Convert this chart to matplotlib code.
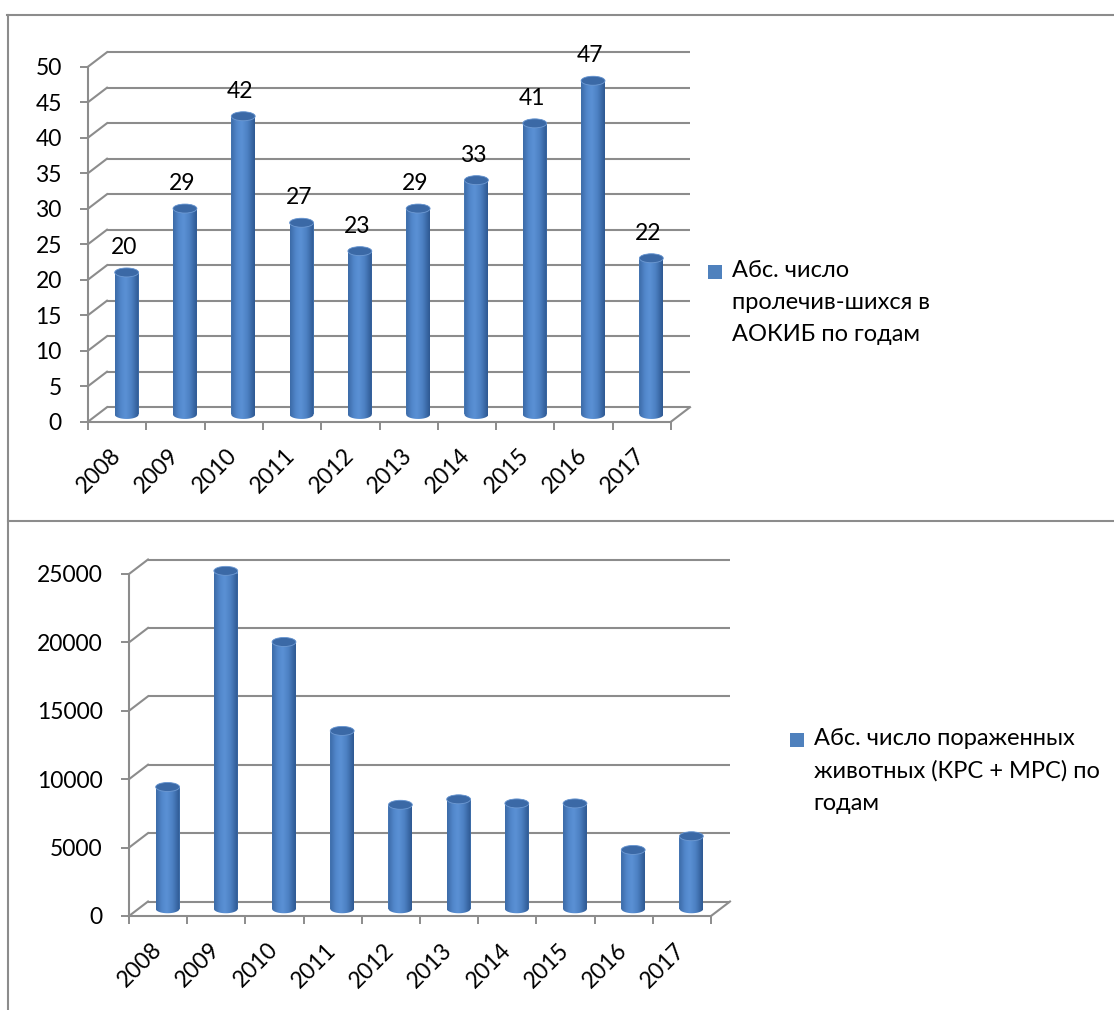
import numpy as np
import matplotlib
matplotlib.use("Agg")
import matplotlib.pyplot as plt
from matplotlib.colors import LinearSegmentedColormap
from matplotlib.patches import Ellipse, Rectangle, Patch
from matplotlib.path import Path
from matplotlib.lines import Line2D
from matplotlib.legend_handler import HandlerPatch

plt.rcParams['font.family'] = ['Lato', 'DejaVu Sans']

years = ['2008', '2009', '2010', '2011', '2012', '2013', '2014', '2015', '2016', '2017']
treated = [20, 29, 42, 27, 23, 29, 33, 41, 47, 22]
affected = [8900, 24700, 19500, 13000, 7600, 8000, 7700, 7700, 4300, 5300]
treated_ticks = np.arange(0, 51, 5)
affected_ticks = np.arange(0, 25001, 5000)
treated_label = 'Абс. число\nпролечив-шихся в\nАОКИБ по годам'
affected_label = 'Абс. число пораженных\nживотных (КРС + МРС) по\nгодам'

W, H = 1114, 1010
GRID = '#8c8c8c'
BLUE = '#4f81bd'
FS = 16.5
LEG_FS = 17
DEPTH_X, DEPTH_Y = 19, 14.5      # pixels the back wall is pushed right / up
LINE_STEP = 32.5 * 0.72          # legend line step, points

cyl = LinearSegmentedColormap.from_list('cyl', [
    (0.0, '#3b6aa6'), (0.25, '#5287cb'), (0.45, '#5b91d5'),
    (0.7, '#4c80c2'), (1.0, '#2d5790')])
grad = np.linspace(0, 1, 256).reshape(1, -1)

fig = plt.figure(figsize=(W / 100, H / 100), dpi=100)


def square(legend, orig_handle, xdescent, ydescent, width, height, fontsize):
    # legend centres the marker on the text block; lift it to the first line
    return Rectangle((-xdescent, -ydescent + LINE_STEP), 10, 10)


def cylinders(box, values, ticks, label, leg_xy, show_values):
    x0, ytop, x1, ybot = box
    ax = fig.add_axes([x0 / W, 1 - ybot / H, (x1 - x0) / W, (ybot - ytop) / H])
    n = len(values)
    ymax = ticks[-1]
    ux = (x1 - x0) / n
    uy = (ybot - ytop) / ymax
    ddx, ddy = DEPTH_X / ux, DEPTH_Y / uy

    # back wall, side wall and floor edge
    for v in ticks:
        ax.plot([ddx, n + ddx], [v + ddy, v + ddy], color=GRID, lw=1.5,
                clip_on=False, zorder=1, solid_capstyle='butt')
        ax.plot([0, ddx], [v, v + ddy], color=GRID, lw=1.5,
                clip_on=False, zorder=1)
    ax.plot([n, n + ddx], [0, ddy], color=GRID, lw=1.5, clip_on=False, zorder=1)

    xc = np.arange(n) + 0.5 + ddx / 2
    bars = ax.bar(xc, values, width=0.41, bottom=ddy / 2, color=BLUE,
                  zorder=3, clip_on=False, label=label)
    eh = 9 / uy
    t1 = np.linspace(np.pi, 2 * np.pi, 40)
    t2 = np.linspace(0, np.pi, 40)
    for b, v in zip(bars, values):
        bx, bw, by, bh = b.get_x(), b.get_width(), b.get_y(), b.get_height()
        cx = bx + bw / 2
        low = np.column_stack([cx + bw / 2 * np.cos(t1), by + eh / 2 * np.sin(t1)])
        high = np.column_stack([cx + bw / 2 * np.cos(t2), by + bh + eh / 2 * np.sin(t2)])
        body = Path(np.vstack([low, high, low[:1]]))
        im = ax.imshow(grad, cmap=cyl, extent=(bx, bx + bw, by - eh, by + bh + eh),
                       aspect='auto', zorder=4, interpolation='bicubic')
        im.set_clip_path(body, ax.transData)
        ax.add_patch(Ellipse((cx, by + bh), bw, eh, fc='#3b69a6', ec='#6e9ad3',
                             lw=0.6, zorder=5, clip_on=False))
        if show_values:
            ax.annotate(str(v), (cx, by + bh), xytext=(-2, 18), textcoords='offset points',
                        ha='center', va='center', fontsize=FS, annotation_clip=False)

    ax.set_xlim(0, n)
    ax.set_ylim(0, ymax)
    ax.patch.set_visible(False)
    for s in ['top', 'right']:
        ax.spines[s].set_visible(False)
    for s in ['left', 'bottom']:
        ax.spines[s].set_color(GRID)
        ax.spines[s].set_linewidth(1.5)

    ax.set_yticks(ticks)
    ax.tick_params(axis='y', length=5.8, width=1.4, color=GRID, pad=13, labelsize=FS)
    ax.set_xticks(np.arange(n + 1))
    ax.set_xticklabels([])
    ax.set_xticks(np.arange(n) + 0.5, minor=True)
    ax.set_xticklabels(years, minor=True, rotation=45, ha='right',
                       rotation_mode='anchor', va='center')
    ax.tick_params(axis='x', which='major', length=6, width=1.4, color=GRID)
    ax.tick_params(axis='x', which='minor', length=0, pad=22, labelsize=FS)

    leg = fig.legend(handles=[Patch(fc=BLUE)], labels=[label], loc='upper left',
                     bbox_to_anchor=(leg_xy[0] / W, 1 - leg_xy[1] / H),
                     frameon=False, fontsize=LEG_FS, handlelength=0.6, handleheight=0.7,
                     handletextpad=0.4, borderpad=0, borderaxespad=0,
                     handler_map={Patch: HandlerPatch(patch_func=square)})
    for t in leg.get_texts():
        t.set_linespacing(1.65)
    return ax


cylinders((88, 66.7, 671, 421.7), treated, treated_ticks, treated_label, (708, 260), True)
cylinders((129, 574, 711, 916), affected, affected_ticks, affected_label, (790, 728), False)

# outer frame of the two panels
for xs, ys in [([7, W], [15, 15]), ([8, 8], [15, H]), ([8, W], [521, 521])]:
    fig.add_artist(Line2D([x / W for x in xs], [1 - y / H for y in ys],
                          transform=fig.transFigure, color=GRID, lw=1.5))

fig.savefig('out.png', dpi=100)
